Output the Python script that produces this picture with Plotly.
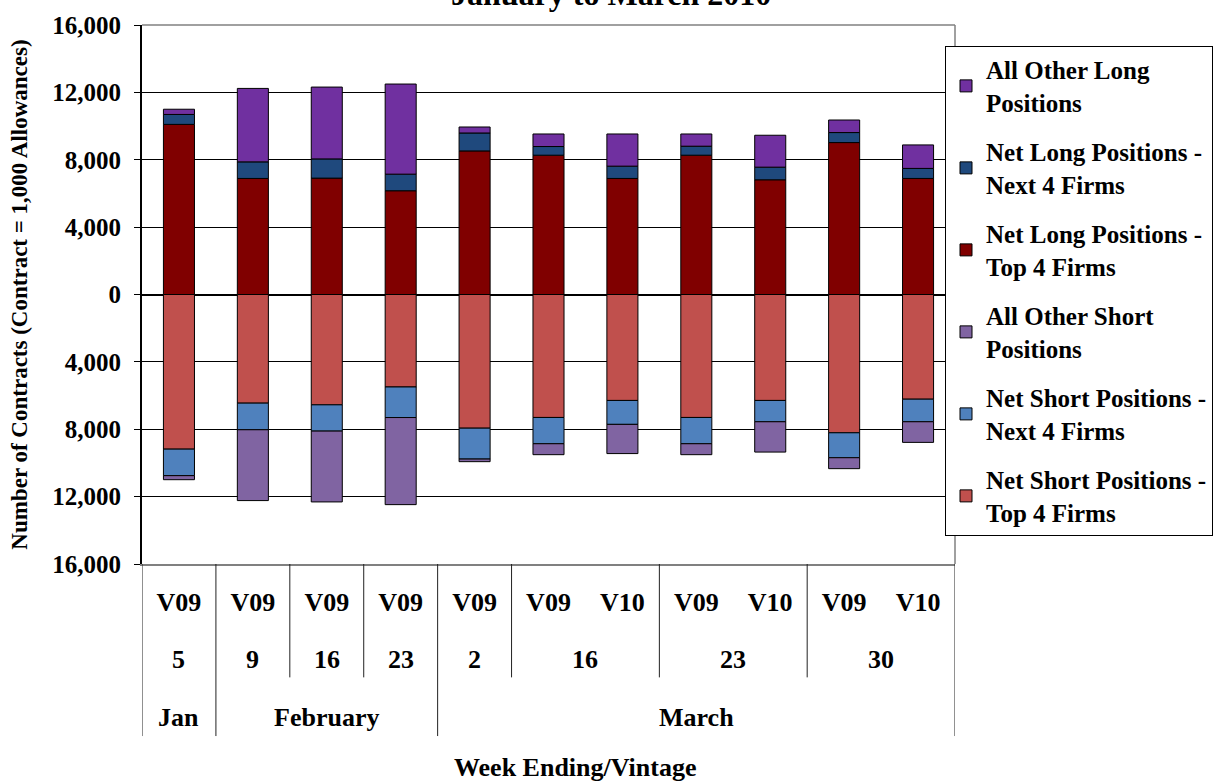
import plotly.graph_objects as go

# ---- data (contracts; short positions entered as positive, plotted below zero) ----
vintages = ["V09", "V09", "V09", "V09", "V09", "V09", "V10", "V09", "V10", "V09", "V10"]
days = ["5", "9", "16", "23", "2", "16", "16", "23", "23", "30", "30"]
months = ["Jan", "February", "February", "February", "March", "March", "March",
          "March", "March", "March", "March"]

long_top4 = [10100, 6890, 6910, 6160, 8525, 8270, 6890, 8270, 6810, 9020, 6890]
long_next4 = [590, 985, 1140, 985, 1065, 515, 730, 535, 750, 595, 595]
long_other = [310, 4360, 4265, 5350, 355, 745, 1910, 725, 1895, 745, 1395]

short_top4 = [9180, 6450, 6550, 5490, 7935, 7300, 6290, 7300, 6290, 8210, 6215]
short_next4 = [1575, 1580, 1560, 1815, 1835, 1560, 1420, 1560, 1265, 1480, 1340]
short_other = [240, 4205, 4205, 5170, 155, 650, 1735, 650, 1800, 650, 1225]

y_ticks = [-16000, -12000, -8000, -4000, 0, 4000, 8000, 12000, 16000]

FONT = "Liberation Serif"
xs = list(range(len(vintages)))


def f(size):
    return dict(family=FONT, size=size, color="black", weight="bold")


series = [
    ("Net Long Positions -<br>Top 4 Firms", long_top4, 1, "#800000", 3),
    ("Net Long Positions -<br>Next 4 Firms", long_next4, 1, "#1F497D", 2),
    ("All Other Long<br>Positions", long_other, 1, "#7030A0", 1),
    ("Net Short Positions -<br>Top 4 Firms", short_top4, -1, "#C0504D", 6),
    ("Net Short Positions -<br>Next 4 Firms", short_next4, -1, "#4F81BD", 5),
    ("All Other Short<br>Positions", short_other, -1, "#8064A2", 4),
]

fig = go.Figure()
for name, vals, sign, color, rank in series:
    fig.add_trace(go.Bar(
        x=xs, y=[sign * v for v in vals], name=name,
        marker=dict(color=color, line=dict(color="black", width=1)),
        legendrank=rank, legendgroup=str(rank),
        hovertemplate="%{y}<extra></extra>",
    ))

# ---- group boundaries for the multi-level category axis ----
shapes = []
n = len(xs)
full_bottom = -(737 - 564) / 542
day_bottom = -(678 - 564) / 542
for b in range(n + 1):
    xb = b - 0.5
    if b == 0 or b == n or months[b - 1] != months[b]:
        y1 = full_bottom
    elif days[b - 1] != days[b]:
        y1 = day_bottom
    else:
        continue
    shapes.append(dict(type="line", xref="x", yref="paper", x0=xb, x1=xb,
                       y0=0, y1=y1, line=dict(color="#222222", width=1)))

# plot frame (top / right)
shapes.append(dict(type="line", xref="paper", yref="paper", x0=0, x1=1, y0=1, y1=1,
                   line=dict(color="#808080", width=1.5)))
shapes.append(dict(type="line", xref="paper", yref="paper", x0=1, x1=1, y0=0, y1=1,
                   line=dict(color="#808080", width=1.5)))

annotations = []
# day row
i = 0
while i < n:
    j = i
    while j + 1 < n and days[j + 1] == days[i] and months[j + 1] == months[i]:
        j += 1
    annotations.append(dict(x=(i + j) / 2, y=-(660 - 564) / 542, xref="x", yref="paper",
                            text=days[i], showarrow=False, yanchor="middle", font=f(26)))
    i = j + 1
# month row
i = 0
while i < n:
    j = i
    while j + 1 < n and months[j + 1] == months[i]:
        j += 1
    annotations.append(dict(x=(i + j) / 2, y=-(718 - 564) / 542, xref="x", yref="paper",
                            text=months[i], showarrow=False, yanchor="middle", font=f(26)))
    i = j + 1
# x-axis title
annotations.append(dict(x=(575 - 142) / 813, y=-(769 - 564) / 542, xref="paper", yref="paper",
                        text="Week Ending/Vintage", showarrow=False, yanchor="middle",
                        font=f(26)))
# chart title (cut off at the top of the image, as in the original)
annotations.append(dict(x=(611 - 142) / 813, y=(564 - 11) / 542, xref="paper", yref="paper",
                        text="January to March 2010", showarrow=False, yanchor="bottom",
                        font=f(32)))

fig.update_layout(
    width=1225, height=781,
    margin=dict(l=142, r=270, t=22, b=217),
    paper_bgcolor="white", plot_bgcolor="white",
    font=f(24),
    barmode="relative", bargap=0.58,
    showlegend=True,
    legend=dict(x=(945 - 142) / 813, y=(564 - 43) / 542, xanchor="left", yanchor="top",
                bgcolor="white", bordercolor="black", borderwidth=1,
                font=f(25), tracegroupgap=14, traceorder="grouped", itemwidth=30),
    xaxis=dict(range=[-0.5, n - 0.5], tickvals=xs, ticktext=vintages, ticks="",
               showgrid=False, showline=True, linecolor="#808080", linewidth=1.5,
               ticklabelstandoff=14, zeroline=False, tickfont=f(26)),
    yaxis=dict(range=[-16000, 16000], tickvals=y_ticks,
               ticktext=[f"{abs(v):,}" for v in y_ticks],
               showgrid=True, gridcolor="black", gridwidth=1,
               zeroline=True, zerolinecolor="black", zerolinewidth=2,
               showline=True, linecolor="black", linewidth=2,
               ticks="outside", ticklen=6, tickcolor="black", ticklabelstandoff=8,
               tickfont=f(25),
               title=dict(text="Number of Contracts (Contract = 1,000 Allowances)",
                          font=f(23), standoff=18)),
    shapes=shapes, annotations=annotations,
)

fig.write_html("out.html", config={"displayModeBar": False},
               post_script="document.body.style.margin='0';document.body.style.overflow='hidden';")
